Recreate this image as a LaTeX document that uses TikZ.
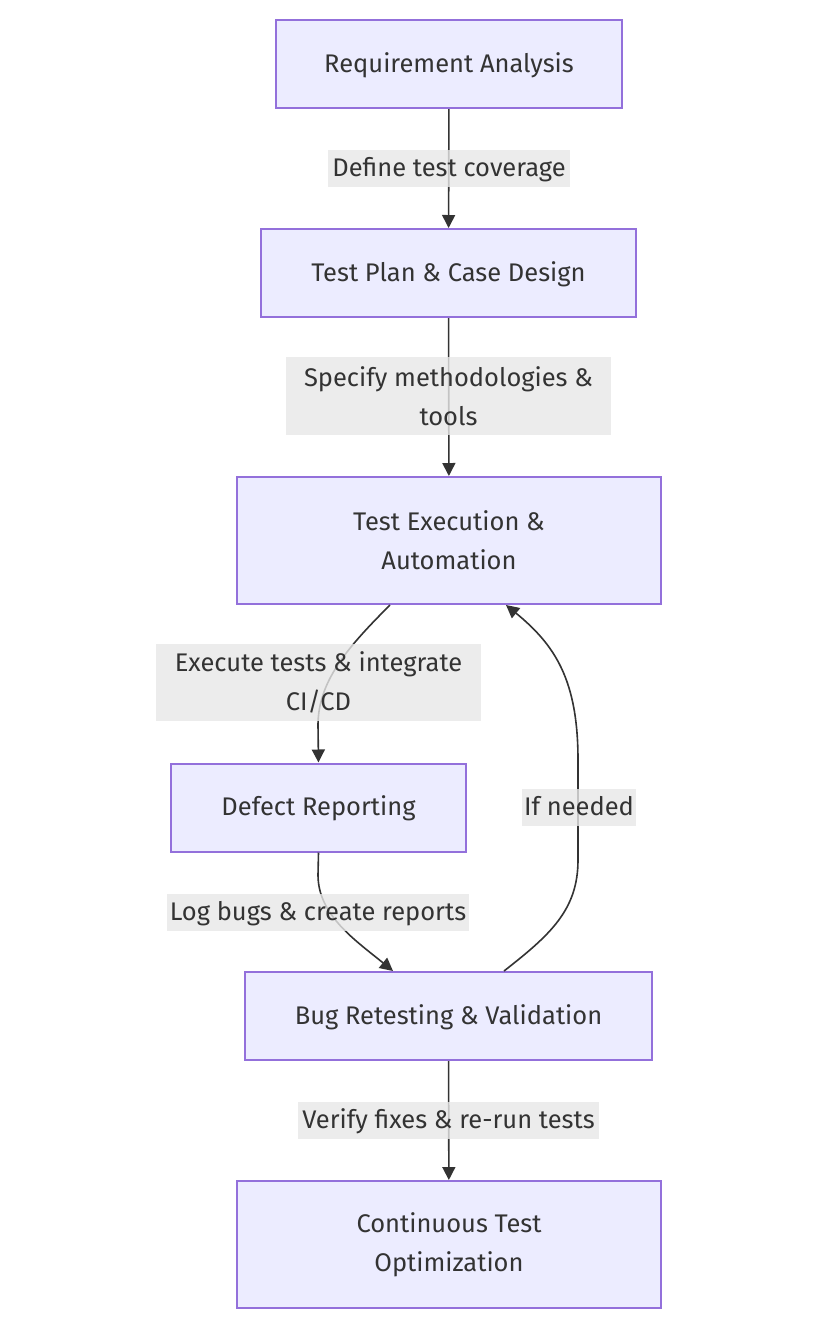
\documentclass[tikz,border=0pt]{standalone}
\usepackage{fontspec}
\setmainfont{Fira Sans}
\usetikzlibrary{calc,arrows.meta}
\definecolor{pagebg}{HTML}{FFFFFF}
\definecolor{nodefill}{HTML}{ECECFF}
\definecolor{nodeline}{HTML}{9370DB}
\definecolor{ink}{HTML}{333333}
\definecolor{labelbg}{HTML}{E8E8E8}
\tikzset{
  stage/.style={draw=nodeline, fill=nodefill, line width=1pt, text=ink, align=center, font=\fontsize{12.75}{19.5}\selectfont, minimum height=44pt, inner sep=0pt},
  tall/.style={minimum height=63.5pt},
  oneline/.style={text height=1em, text depth=0.2em},
  flow/.style={draw=ink, line width=0.8pt, -{Triangle[length=6.5pt,width=6.5pt]}},
  elab/.style={fill=labelbg, fill opacity=0.8, text opacity=1, text=ink, align=center, font=\fontsize{12.75}{19.5}\selectfont, inner xsep=1pt, inner ysep=0pt, minimum height=18.5pt},
}

\begin{document}
\begin{tikzpicture}[x=0.5pt, y=-0.5pt]
  \fill[pagebg] (0,0) rectangle (835,1323);
  \useasboundingbox (0,0) rectangle (835,1323);

  % stages
  \node[stage, oneline, minimum width=173pt] (req) at (449,64) {Requirement Analysis};
  \node[stage, oneline, minimum width=187.5pt] (plan) at (448.5,273) {Test Plan \& Case Design};
  \node[stage, tall, minimum width=212pt] (exec) at (449,540.5) {Test Execution \&\\Automation};
  \node[stage, oneline, minimum width=147.5pt] (defect) at (318.5,807.5) {Defect Reporting};
  \node[stage, oneline, minimum width=203.5pt] (retest) at (448.5,1016) {Bug Retesting \& Validation};
  \node[stage, tall, minimum width=212pt] (optim) at (449,1244.5) {Continuous Test\\Optimization};

  % connectors
  \draw[flow] (req) -- (plan);
  \draw[flow] (plan) -- (exec);
  \draw[flow] ($(exec.south)+(-59,0)$) .. controls (350,645) and (318,680) .. (318,725) -- (defect.north);
  \draw[flow] (defect.south) -- (318,875) .. controls (318,915) and (355,940) .. ($(retest.north)+(-55.5,0)$);
  \draw[flow] ($(retest.north)+(55.5,0)$) .. controls (550,935) and (578,910) .. (578,860) -- (578,760) .. controls (578,680) and (555,645) .. ($(exec.south)+(57,0)$);
  \draw[flow] (retest) -- (optim);

  % edge labels
  \node[elab, oneline, minimum width=121pt] (l1) at (449,168.5) {Define test coverage};
  \node[elab, minimum width=162.5pt, minimum height=39pt] (l2) at (448.5,396) {Specify methodologies \&\\tools};
  \node[elab, minimum width=162.5pt, minimum height=38.5pt] (l3) at (318.5,682.5) {Execute tests \& integrate\\CI/CD};
  \node[elab, oneline, minimum width=55pt] (l4) at (579,807) {If needed};
  \node[elab, oneline, minimum width=151pt] (l5) at (318,912) {Log bugs \& create reports};
  \node[elab, oneline, minimum width=150.5pt] (l6) at (448.5,1120) {Verify fixes \& re-run tests};
\end{tikzpicture}
\end{document}
